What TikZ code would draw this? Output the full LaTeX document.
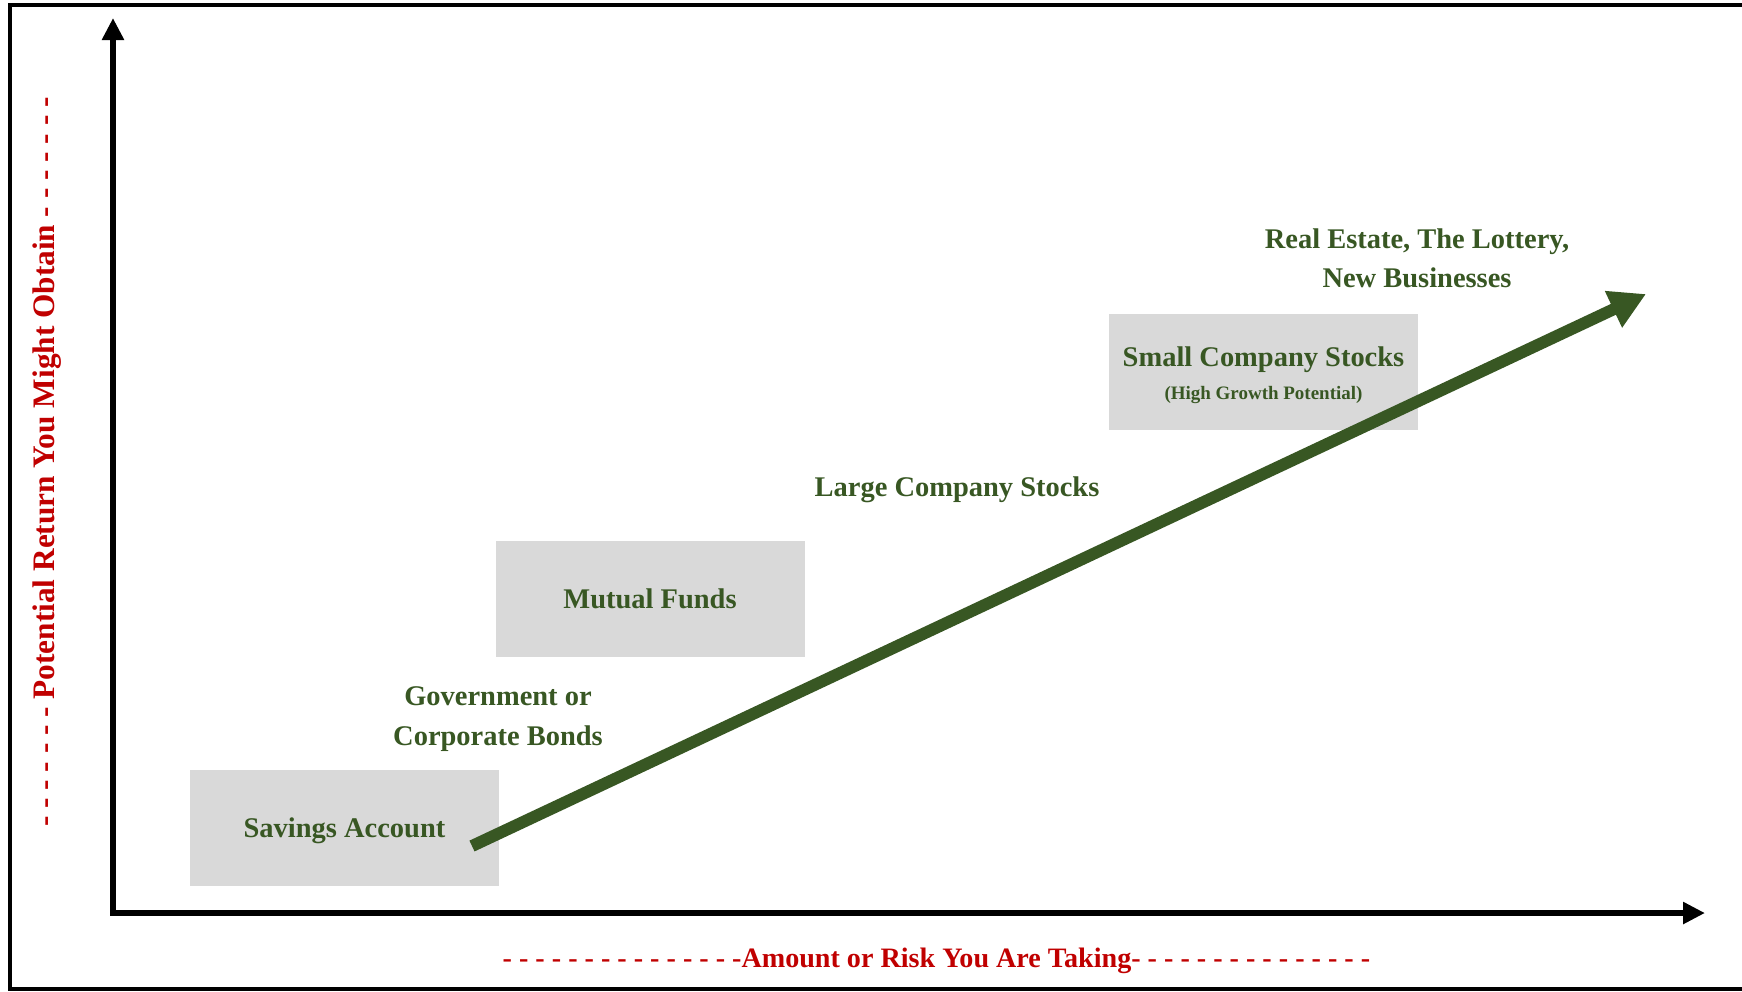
\documentclass[tikz,border=0pt]{standalone}
\usepackage{fontspec}
\setmainfont{Liberation Serif}
\usetikzlibrary{arrows.meta}
\definecolor{darkgreen}{HTML}{385723}
\definecolor{riskred}{HTML}{C00000}
\definecolor{boxgray}{HTML}{D9D9D9}
\tikzset{
  fundbox/.style={fill=boxgray, minimum width=30.9mm, minimum height=11.6mm, inner sep=0pt,
    text depth=0pt, align=center, text=darkgreen, font=\bfseries\fontsize{8.1}{9.4}\selectfont},
  fundtext/.style={align=center, text=darkgreen, font=\bfseries\fontsize{8.1}{11.2}\selectfont},
  axistext/.style={text=riskred, font=\bfseries\fontsize{8}{10}\selectfont}
}

\begin{document}
\begin{tikzpicture}[x=0.1mm, y=-0.1mm]
    \useasboundingbox (0,0) rectangle (1742,991);
    \draw [line width=1.15pt] (10,5) rectangle (1780,989);
    % axes
    \coordinate (ytop) at (113,18);
    \coordinate (origin) at (113,913);
    \coordinate (xend) at (1705,913);
    \draw [<->, >={Triangle[length=2.2mm, width=2.1mm]}, line width=1.7pt] (ytop) -- (origin) -- (xend);
    \node [axistext, anchor=west, inner sep=0pt] (xlabel) at (502,961) {- - - - - - - - - - - - - - -Amount or Risk You Are Taking- - - - - - - - - - - - - - -};
    \node [axistext, rotate=90, font=\bfseries\fontsize{8.9}{10}\selectfont] (ylabel) at (47,462) {- - - - - - - Potential Return You Might Obtain - - - - - - -};
    % investments
    \node [fundbox] (savings) at (344.5,828) {Savings Account};
    \node [fundtext] (bonds) at (498,719) {Government or\\Corporate Bonds};
    \node [fundbox] (mutual) at (650,599) {Mutual Funds};
    \node [fundtext] (large) at (957,490) {Large Company Stocks};
    \node [fundbox] (small) at (1263.5,371.5) {};
    \node [fundtext, font=\bfseries\fontsize{8.1}{9.4}\selectfont] (smalltext) at (1263.5,375) {Small Company Stocks\\{\fontsize{5.4}{6}\selectfont (High Growth Potential)}};
    \node [fundtext] (realestate) at (1417,258) {Real Estate, The Lottery,\\New Businesses};
    % risk arrow
    \coordinate (low) at (472,846);
    \coordinate (high) at (1646,294);
    \draw [->, >={Triangle[length=3.6mm, width=3.8mm]}, line width=3.4pt, color=darkgreen] (low) -- (high);
\end{tikzpicture}
\end{document}
